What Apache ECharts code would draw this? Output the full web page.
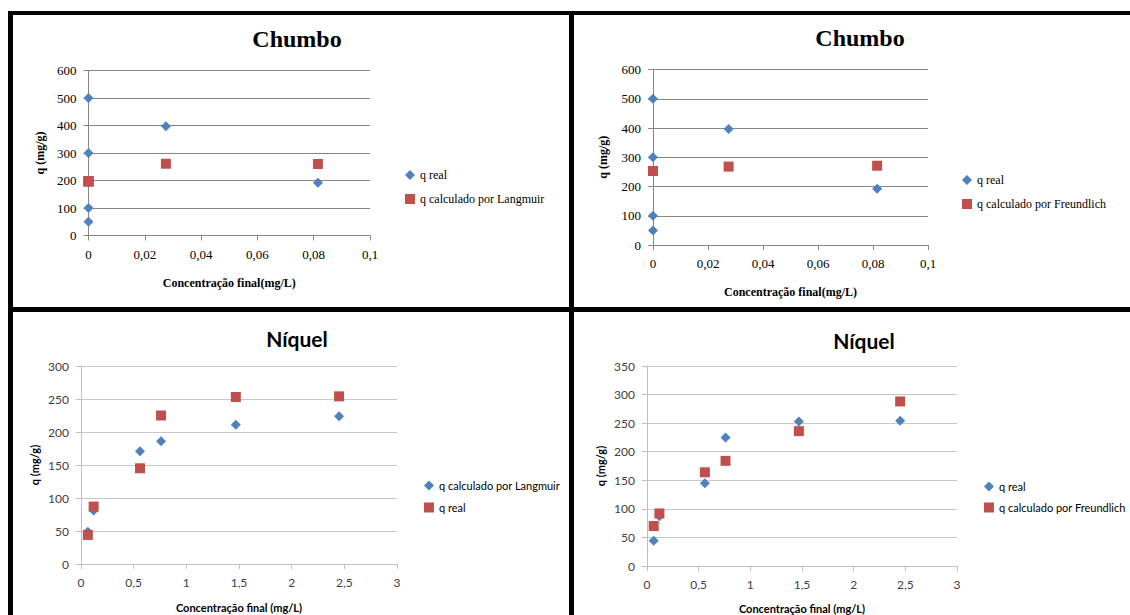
<!DOCTYPE html>
<html>
<head>
<meta charset="utf-8">
<script src="https://cdn.jsdelivr.net/npm/echarts@6/dist/echarts.min.js"></script>
<style>
html,body{margin:0;padding:0;background:#fff;}
#c{width:1130px;height:615px;}
</style>
</head>
<body>
<div id="c"></div>
<script>
// ---- data ----
const chumboConc = [0, 0, 0, 0, 0.0275, 0.0815];
const chumboQReal = [500, 300, 100, 50, 397, 192];
const chumboQLangmuir = [197, 197, 197, 197, 261, 260];
const chumboQFreundlich = [253, 253, 253, 253, 268, 271];

const niquelConc = [0.065, 0.12, 0.56, 0.76, 1.47, 2.45];
const niquelQLangmuir = [49, 81, 171, 186, 211, 224];
const niquelQReal = [44, 87, 145, 225, 253, 254];
const niquelQFreundlich = [70, 92, 164, 184, 236, 288];

const titles = ['Chumbo', 'Chumbo', 'Níquel', 'Níquel'];
const legendTL = ['q real', 'q calculado por Langmuir'];
const legendTR = ['q real', 'q calculado por Freundlich'];
const legendBL = ['q calculado por Langmuir', 'q real'];
const legendBR = ['q real', 'q calculado por Freundlich'];
const xNameTop = 'Concentração final(mg/L)';
const xNameBottom = 'Concentração final (mg/L)';
const yName = 'q (mg/g)';

function pairs(xs, ys) { return xs.map((x, i) => [x, ys[i]]); }
const comma = v => String(v).replace('.', ',');

const BLUE = '#4F81BD', RED = '#C0504D';
const SERIF = 'Liberation Serif, DejaVu Serif, serif';
const SANS = 'Lato, Open Sans, sans-serif';

const grids = [
  {left: 88.5, top: 70.5, width: 281.5, height: 165},
  {left: 653, top: 69.5, width: 275, height: 175.5},
  {left: 81, top: 366, width: 316, height: 198},
  {left: 647, top: 366, width: 310, height: 200}
];

function mkX(i, max, interval, font, name, gap, axisColor, labelColor) {
  const serif = font === SERIF;
  return {
    type: 'value', gridIndex: i, min: 0, max: max, interval: interval,
    name: name, nameLocation: 'middle', nameGap: gap,
    nameTextStyle: {fontFamily: font, fontWeight: 'bold', fontSize: serif ? 12 : 11, color: '#000'},
    axisLine: {show: true, lineStyle: {color: axisColor, width: 1}},
    axisTick: {show: true, length: 5, lineStyle: {color: axisColor}},
    axisLabel: {formatter: comma, fontFamily: font, fontSize: serif ? 13 : 12, color: labelColor, margin: 12},
    splitLine: {show: false}
  };
}
function mkY(i, max, interval, font, gap, axisColor, labelColor, splitColor) {
  const serif = font === SERIF;
  return {
    type: 'value', gridIndex: i, min: 0, max: max, interval: interval,
    name: yName, nameLocation: 'middle', nameGap: gap, nameRotate: 90,
    nameTextStyle: {fontFamily: font, fontWeight: 'bold', fontSize: serif ? 12 : 11, color: '#000'},
    axisLine: {show: true, lineStyle: {color: axisColor, width: 1}},
    axisTick: {show: true, length: 5, lineStyle: {color: axisColor}},
    axisLabel: {fontFamily: font, fontSize: serif ? 13 : 12, color: labelColor, margin: 12},
    splitLine: {show: true, lineStyle: {color: splitColor, width: 1}}
  };
}

const labelMap = {
  tl_a: legendTL[0], tl_b: legendTL[1],
  tr_a: legendTR[0], tr_b: legendTR[1],
  bl_a: legendBL[0], bl_b: legendBL[1],
  br_a: legendBR[0], br_b: legendBR[1]
};

function mkLegend(ids, left, top, font, size, gap) {
  return {
    orient: 'vertical', left: left, top: top, itemWidth: 10, itemHeight: 10, itemGap: gap,
    selectedMode: false,
    data: [
      {name: ids[0], icon: 'diamond', itemStyle: {color: BLUE}},
      {name: ids[1], icon: 'rect', itemStyle: {color: RED}}
    ],
    formatter: n => labelMap[n],
    textStyle: {fontFamily: font, fontSize: size, color: '#000'}
  };
}

function sc(id, gi, data, sym, color) {
  return {
    name: id, type: 'scatter', xAxisIndex: gi, yAxisIndex: gi,
    data: data, symbol: sym, symbolSize: 10,
    itemStyle: {color: color, opacity: 1}
  };
}

const option = {
  animation: false,
  backgroundColor: '#fff',
  title: [
    {text: titles[0], left: 292, top: 22, textAlign: 'center', textStyle: {fontFamily: SERIF, fontWeight: 'bold', fontSize: 24, color: '#000'}},
    {text: titles[1], left: 855, top: 21, textAlign: 'center', textStyle: {fontFamily: SERIF, fontWeight: 'bold', fontSize: 24, color: '#000'}},
    {text: titles[2], left: 292, top: 323, textAlign: 'center', textStyle: {fontFamily: SANS, fontWeight: 'bold', fontSize: 21, color: '#000'}},
    {text: titles[3], left: 859, top: 325, textAlign: 'center', textStyle: {fontFamily: SANS, fontWeight: 'bold', fontSize: 21, color: '#000'}}
  ],
  legend: [
    mkLegend(['tl_a', 'tl_b'], 400, 164, SERIF, 12, 12),
    mkLegend(['tr_a', 'tr_b'], 957, 169, SERIF, 12, 12),
    mkLegend(['bl_a', 'bl_b'], 419, 475, SANS, 11, 11),
    mkLegend(['br_a', 'br_b'], 979, 476, SANS, 11, 10)
  ],
  grid: grids,
  xAxis: [
    mkX(0, 0.1, 0.02, SERIF, xNameTop, 41, '#868686', '#000'),
    mkX(1, 0.1, 0.02, SERIF, xNameTop, 41, '#868686', '#000'),
    mkX(2, 3, 0.5, SANS, xNameBottom, 38, '#BFBFBF', '#404040'),
    mkX(3, 3, 0.5, SANS, xNameBottom, 37, '#BFBFBF', '#404040')
  ],
  yAxis: [
    mkY(0, 600, 100, SERIF, 43, '#868686', '#000', '#868686'),
    mkY(1, 600, 100, SERIF, 44, '#868686', '#000', '#868686'),
    mkY(2, 300, 50, SANS, 41, '#BFBFBF', '#404040', '#C8C8C8'),
    mkY(3, 350, 50, SANS, 41, '#BFBFBF', '#404040', '#C8C8C8')
  ],
  series: [
    sc('tl_a', 0, pairs(chumboConc, chumboQReal), 'diamond', BLUE),
    sc('tl_b', 0, pairs(chumboConc, chumboQLangmuir), 'rect', RED),
    sc('tr_a', 1, pairs(chumboConc, chumboQReal), 'diamond', BLUE),
    sc('tr_b', 1, pairs(chumboConc, chumboQFreundlich), 'rect', RED),
    sc('bl_a', 2, pairs(niquelConc, niquelQLangmuir), 'diamond', BLUE),
    sc('bl_b', 2, pairs(niquelConc, niquelQReal), 'rect', RED),
    sc('br_a', 3, pairs(niquelConc, niquelQReal), 'diamond', BLUE),
    sc('br_b', 3, pairs(niquelConc, niquelQFreundlich), 'rect', RED)
  ],
  graphic: [
    {type: 'rect', shape: {x: 8, y: 11, width: 1122, height: 4}, style: {fill: '#000'}, silent: true},
    {type: 'rect', shape: {x: 8, y: 11, width: 5, height: 604}, style: {fill: '#000'}, silent: true},
    {type: 'rect', shape: {x: 569, y: 11, width: 5, height: 604}, style: {fill: '#000'}, silent: true},
    {type: 'rect', shape: {x: 8, y: 307, width: 1122, height: 5}, style: {fill: '#000'}, silent: true}
  ]
};

const chart = echarts.init(document.getElementById('c'), null, {renderer: 'svg'});
chart.setOption(option);
</script>
</body>
</html>
